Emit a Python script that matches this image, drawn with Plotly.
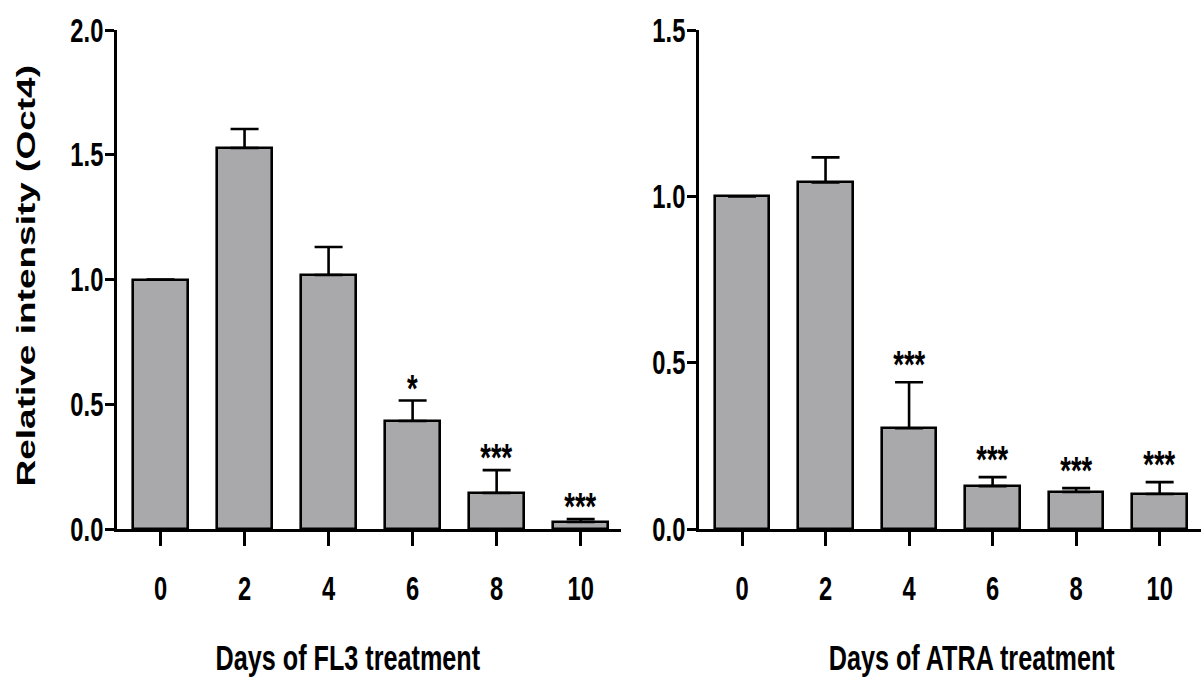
import plotly.graph_objects as go

# ---- data ----
days = [0, 2, 4, 6, 8, 10]
day_labels = ["0", "2", "4", "6", "8", "10"]

fl3_mean = [1.00, 1.527, 1.018, 0.433, 0.144, 0.028]
fl3_sem = [0.0, 0.076, 0.112, 0.082, 0.092, 0.012]
fl3_sig = ["", "", "", "*", "***", "***"]

atra_mean = [1.00, 1.042, 0.303, 0.129, 0.111, 0.105]
atra_sem = [0.0, 0.075, 0.138, 0.027, 0.012, 0.036]
atra_sig = ["", "", "***", "***", "***", "***"]

yticks_fl3 = [0.0, 0.5, 1.0, 1.5, 2.0]
yticks_atra = [0.0, 0.5, 1.0, 1.5]

xtitle_fl3 = "Days of FL3 treatment"
xtitle_atra = "Days of ATRA treatment"
ytitle = "Relative intensity (Oct4)"

# ---- styling ----
FONT = "Liberation Sans, Arial, sans-serif"
BAR_FILL = "#a9a9ab"
W, H = 1201, 677
y_bot_px, y_top_px = 529, 30

fig = go.Figure()

def add_panel(means, sems, xa, ya):
    fig.add_trace(go.Bar(
        x=days, y=means, width=1.31,
        marker=dict(color=BAR_FILL, line=dict(color="black", width=2.6)),
        error_y=dict(type="data", symmetric=False, array=sems,
                     arrayminus=[0] * len(sems), color="black",
                     thickness=2.6, width=14),
        xaxis=xa, yaxis=ya, showlegend=False, hoverinfo="skip",
    ))

add_panel(fl3_mean, fl3_sem, "x", "y")
add_panel(atra_mean, atra_sem, "x2", "y2")

ydom = [(H - y_bot_px) / H, (H - y_top_px) / H]
tickfont = dict(family=FONT, size=33, color="black", weight="bold")

common_x = dict(showgrid=False, zeroline=False, showline=True, linecolor="black",
                linewidth=3, ticks="outside", ticklen=14, tickwidth=3,
                tickcolor="black", tickvals=days, ticktext=day_labels,
                tickfont=tickfont, ticklabelstandoff=14, fixedrange=True,
                automargin=False)
common_y = dict(showgrid=False, zeroline=False, showline=True, linecolor="black",
                linewidth=3, ticks="outside", ticklen=9, tickwidth=3,
                tickcolor="black", tickformat=".1f", tickfont=tickfont,
                ticklabelstandoff=-5, fixedrange=True, automargin=False)

fig.update_layout(
    width=W, height=H,
    margin=dict(l=0, r=0, t=0, b=0, pad=0, autoexpand=False),
    paper_bgcolor="white", plot_bgcolor="white",
    bargap=0,
    xaxis=dict(domain=[117 / W, 621 / W], range=[-1.036, 10.96], anchor="y", **common_x),
    yaxis=dict(domain=ydom, range=[0, 2.0], tickvals=yticks_fl3, anchor="x", **common_y),
    xaxis2=dict(domain=[699 / W, 1.0], range=[-1.03, 10.99], anchor="y2", **common_x),
    yaxis2=dict(domain=ydom, range=[0, 1.5], tickvals=yticks_atra, anchor="x2", **common_y),
)

star_font = dict(family=FONT, size=38, color="black", weight="bold")
for xa, ya, means, sems, sigs, ys in [("x", "y", fl3_mean, fl3_sem, fl3_sig, -11),
                                      ("x2", "y2", atra_mean, atra_sem, atra_sig, -6)]:
    for d, m, s, g in zip(days, means, sems, sigs):
        if g:
            fig.add_annotation(x=d, y=m + s, xref=xa, yref=ya, text=g,
                               showarrow=False, yanchor="bottom", yshift=ys,
                               font=star_font)

title_font = dict(family=FONT, size=35, color="black", weight="bold")
fig.add_annotation(x=348 / W, y=(H - 657) / H, xref="paper", yref="paper",
                   text=xtitle_fl3, showarrow=False, xanchor="center",
                   yanchor="middle", font=title_font)
fig.add_annotation(x=972 / W, y=(H - 657) / H, xref="paper", yref="paper",
                   text=xtitle_atra, showarrow=False, xanchor="center",
                   yanchor="middle", font=title_font)
fig.add_annotation(x=26 / W, y=(H - 275.5) / H, xref="paper", yref="paper",
                   text=ytitle, showarrow=False, textangle=-90,
                   xanchor="center", yanchor="middle",
                   font=dict(family=FONT, size=37, color="black", weight="bold"))

# The reference lettering is horizontally condensed (Arial-Narrow look); no
# narrow face is installed, so condense the real text glyphs in place.
post = """
document.body.style.margin = '0';
var gd = document.getElementById('{plot_id}');
var SX = 0.72;
gd.querySelectorAll('text').forEach(function (t) {
  var bb = t.getBBox();
  var tr = t.getAttribute('transform') || '';
  if (t.textContent === '%s') {
    var cy = bb.y + bb.height / 2;
    t.setAttribute('transform', tr + ' translate(0,' + cy + ') scale(1,0.71) translate(0,' + (-cy) + ')');
    return;
  }
  var anc = t.getAttribute('text-anchor') || t.style.textAnchor || 'middle';
  var px = anc === 'end' ? bb.x + bb.width : (anc === 'start' ? bb.x : bb.x + bb.width / 2);
  t.setAttribute('transform', tr + ' translate(' + px + ',0) scale(' + SX + ',1) translate(' + (-px) + ',0)');
});
""" % ytitle

fig.write_html("out.html", post_script=post, config={"displayModeBar": False})
